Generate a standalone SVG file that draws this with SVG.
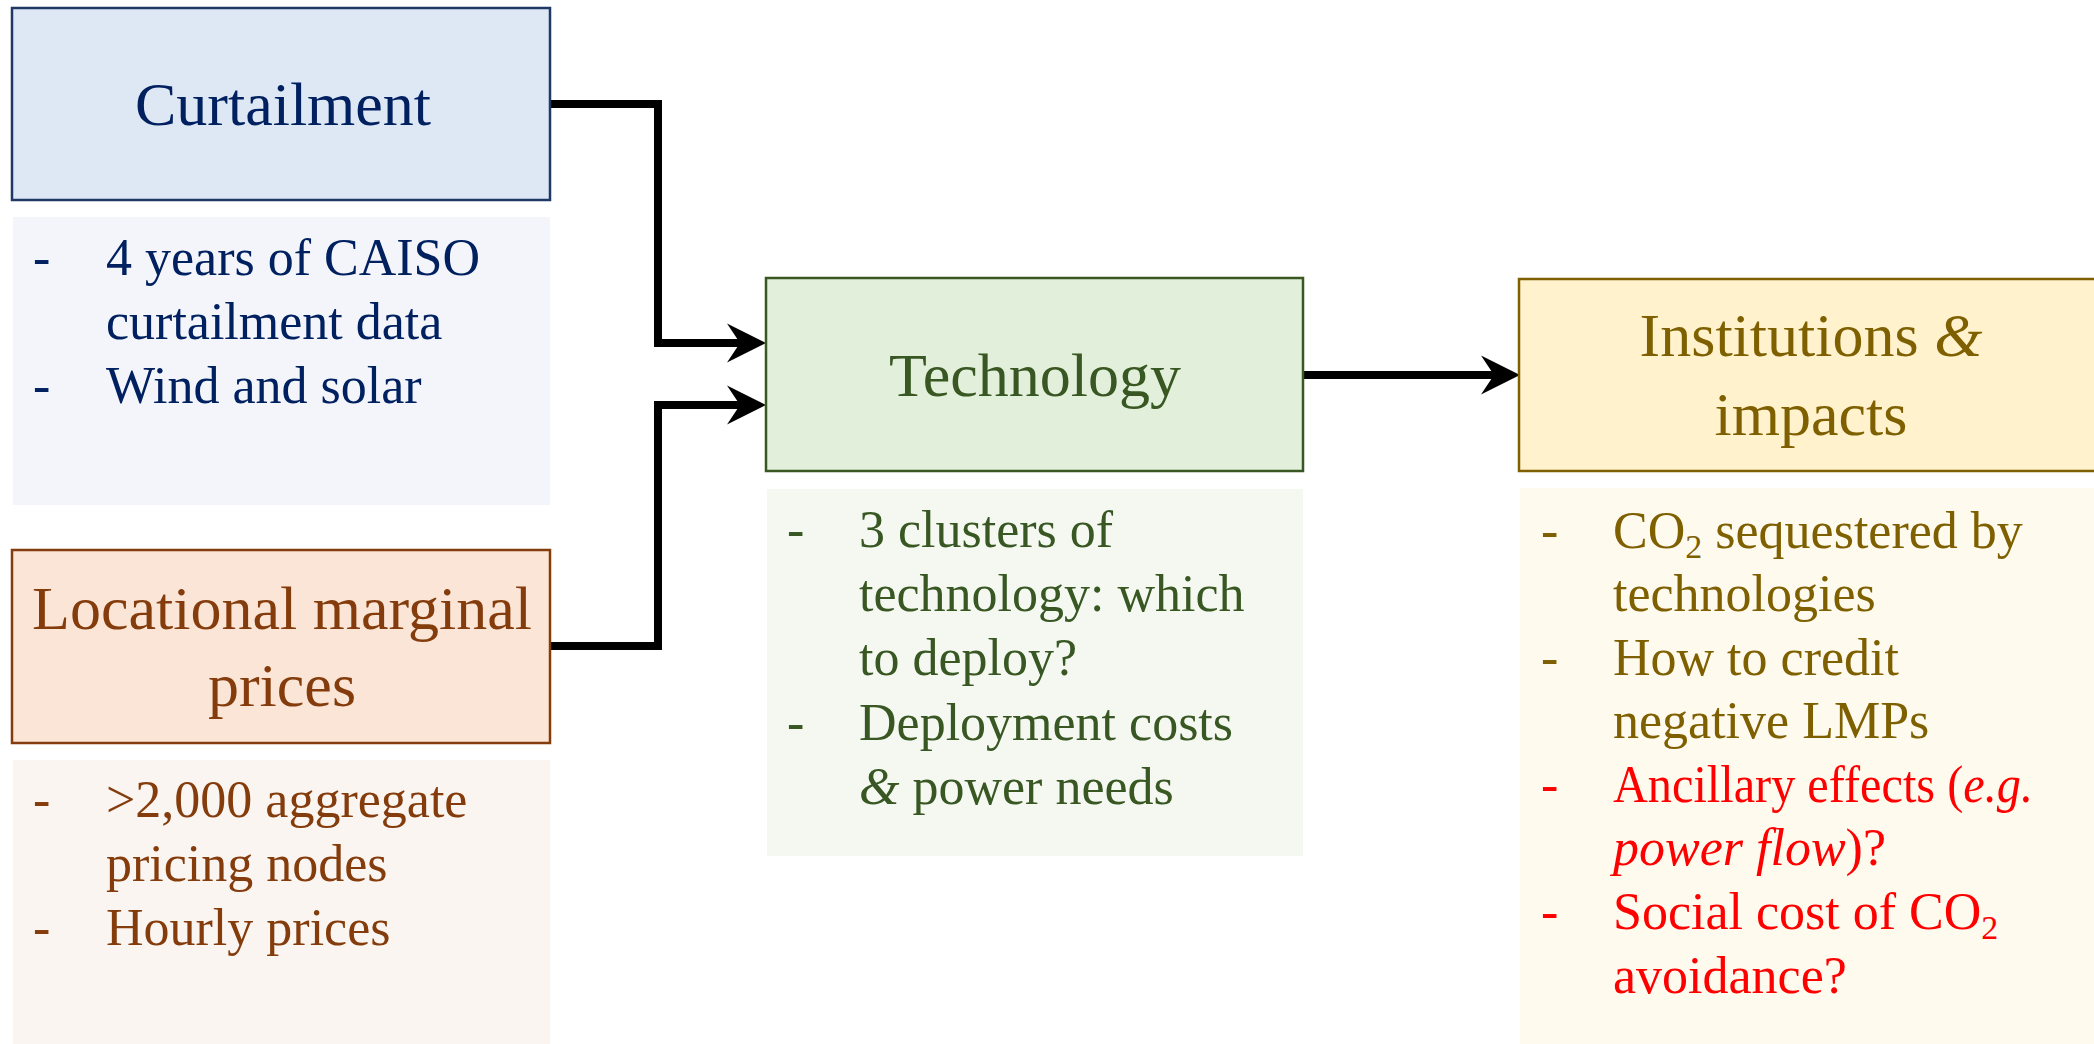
<svg xmlns="http://www.w3.org/2000/svg" width="2094" height="1044" viewBox="0 0 2094 1044">
  <style>
    text { font-family: "Liberation Serif", "Times New Roman", serif; }
    .title { font-size: 62px; text-anchor: middle; }
    .item { font-size: 52px; }
    .it { font-style: italic; }
    .box { stroke-width: 2.5; }
    .conn { fill: none; stroke: #000; stroke-width: 8; }
    .blue { fill: #002060; }
    .brown { fill: #843c0c; }
    .green { fill: #385723; }
    .gold { fill: #7f6000; }
    .red { fill: #ff0000; }
  </style>
  <defs>
    <marker id="arrow" markerUnits="userSpaceOnUse" markerWidth="40" markerHeight="40" viewBox="0 0 40 40" refX="14" refY="20" orient="auto">
      <path d="M0,0.5 L39,20 L0,39.5 L13,20 Z" fill="#000"/>
    </marker>
  </defs>
  <rect width="2094" height="1044" fill="#ffffff"/>

  <g id="connectors">
    <path class="conn" d="M550,104 H658 V343 H741" marker-end="url(#arrow)"/>
    <path class="conn" d="M550,646 H658 V405 H741" marker-end="url(#arrow)"/>
    <path class="conn" d="M1303,375 H1495" marker-end="url(#arrow)"/>
  </g>

  <g id="curtailment">
    <rect class="box" x="12" y="8" width="538" height="192" fill="#dee8f5" stroke="#1f3864"/>
    <text class="title blue" x="283" y="125">Curtailment</text>
  </g>
  <g id="curtailment-details">
    <rect x="13" y="217" width="537" height="288" fill="#f3f5fb"/>
    <g class="item blue">
      <text x="33" y="275">-</text>
      <text x="106" y="275">4 years of CAISO</text>
      <text x="106" y="339">curtailment data</text>
      <text x="33" y="403">-</text>
      <text x="106" y="403">Wind and solar</text>
    </g>
  </g>

  <g id="lmp">
    <rect class="box" x="12" y="550" width="538" height="193" fill="#fbe5d6" stroke="#843c0c"/>
    <text class="title brown" x="282" y="629">Locational marginal</text>
    <text class="title brown" x="282" y="706">prices</text>
  </g>
  <g id="lmp-details">
    <rect x="13" y="760" width="537" height="290" fill="#fbf5f1"/>
    <g class="item brown">
      <text x="33" y="817">-</text>
      <text x="106" y="817">&gt;2,000 aggregate</text>
      <text x="106" y="881">pricing nodes</text>
      <text x="33" y="945">-</text>
      <text x="106" y="945">Hourly prices</text>
    </g>
  </g>

  <g id="technology">
    <rect class="box" x="766" y="278" width="537" height="193" fill="#e2efda" stroke="#385723"/>
    <text class="title green" x="1035" y="396">Technology</text>
  </g>
  <g id="technology-details">
    <rect x="767" y="489" width="536" height="367" fill="#f4f8f1"/>
    <g class="item green">
      <text x="787" y="547">-</text>
      <text x="859" y="547">3 clusters of</text>
      <text x="859" y="611">technology: which</text>
      <text x="859" y="675">to deploy?</text>
      <text x="787" y="740">-</text>
      <text x="859" y="740">Deployment costs</text>
      <text x="859" y="804"><tspan class="it">&amp;</tspan> power needs</text>
    </g>
  </g>

  <g id="institutions">
    <rect class="box" x="1519" y="279" width="600" height="192" fill="#fff2cc" stroke="#7f6000"/>
    <text class="title gold" x="1811" y="356">Institutions <tspan class="it">&amp;</tspan></text>
    <text class="title gold" x="1811" y="435">impacts</text>
  </g>
  <g id="institutions-details">
    <rect x="1520" y="488" width="600" height="560" fill="#fffaee"/>
    <g class="item">
      <text class="gold" x="1541" y="548">-</text>
      <text class="gold" x="1613" y="548">CO<tspan font-size="34" dy="10">2</tspan><tspan dy="-10"> sequestered by</tspan></text>
      <text class="gold" x="1613" y="611">technologies</text>
      <text class="gold" x="1541" y="675">-</text>
      <text class="gold" x="1613" y="675">How to credit</text>
      <text class="gold" x="1613" y="738">negative LMPs</text>
      <text class="red" x="1541" y="802">-</text>
      <text class="red" x="1613" y="802" textLength="420" lengthAdjust="spacingAndGlyphs">Ancillary effects (<tspan class="it">e.g.</tspan></text>
      <text class="red" x="1613" y="865"><tspan class="it">power flow</tspan>)?</text>
      <text class="red" x="1541" y="929">-</text>
      <text class="red" x="1613" y="929">Social cost of CO<tspan font-size="34" dy="10">2</tspan></text>
      <text class="red" x="1613" y="993">avoidance?</text>
    </g>
  </g>
</svg>
